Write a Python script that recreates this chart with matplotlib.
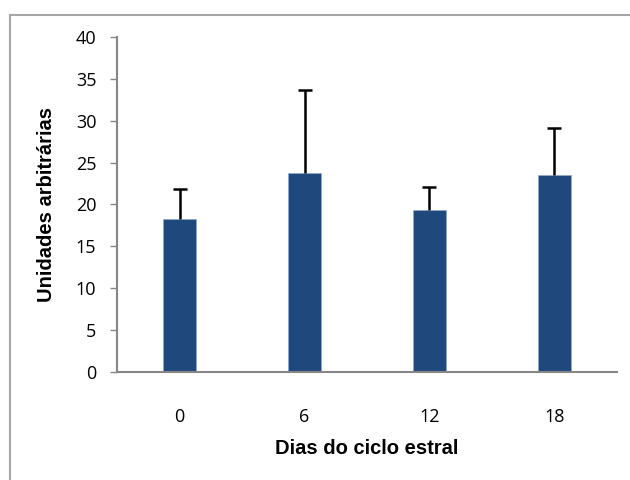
"""Bar chart with error bars: arbitrary units by day of oestrous cycle"""
import matplotlib
matplotlib.use("Agg")
import matplotlib.pyplot as plt
from matplotlib.lines import Line2D

days = ["0", "6", "12", "18"]
means = [18.3, 23.8, 19.4, 23.5]
upper_err = [3.6, 9.9, 2.7, 5.6]  # only the upper whisker is drawn


def plot():
    fig = plt.figure(figsize=(6.3, 4.8), dpi=100)
    ax = fig.add_axes([0.186, 0.225, 0.793, 0.698])

    pos = range(len(days))
    ax.bar(pos, means, width=0.26, color="#1F497D", edgecolor="#8EA9CF",
           linewidth=0.6, zorder=2)
    eb = ax.errorbar(pos, means, yerr=[[0] * len(means), upper_err],
                     fmt="none", ecolor="black", elinewidth=1.8, capsize=5,
                     capthick=1.8, zorder=3)
    eb[1][0].set_visible(False)  # hide the lower caps

    ax.set_xlim(-0.5, 3.5)
    ax.set_ylim(0, 40)
    ax.set_yticks(range(0, 41, 5))
    ax.set_xticks(list(pos))
    ax.set_xticklabels(days)

    for side in ("top", "right"):
        ax.spines[side].set_visible(False)
    for side in ("left", "bottom"):
        ax.spines[side].set_color("#868686")
        ax.spines[side].set_linewidth(1.5)
    ax.tick_params(axis="y", length=5, width=1, color="#868686",
                   labelsize=13, pad=10)
    ax.tick_params(axis="x", length=0, labelsize=13, pad=26)
    for lab in ax.get_xticklabels() + ax.get_yticklabels():
        lab.set_family("Open Sans")

    ax.set_xlabel("Dias do ciclo estral", family="Liberation Sans",
                  fontweight="bold", fontsize=14.5, labelpad=9)
    ax.set_ylabel("Unidades arbitrárias", family="Liberation Sans",
                  fontweight="bold", fontsize=14.5, labelpad=14)

    # light frame on the left and top edges of the chart area
    frame = dict(transform=fig.transFigure, color="#A6A6A6", linewidth=1.5)
    fig.lines.append(Line2D([10 / 630, 10 / 630], [0, 1 - 15 / 480], **frame))
    fig.lines.append(Line2D([10 / 630, 1], [1 - 15 / 480, 1 - 15 / 480], **frame))

    fig.savefig("out.png", dpi=100)


if __name__ == "__main__":
    plot()
